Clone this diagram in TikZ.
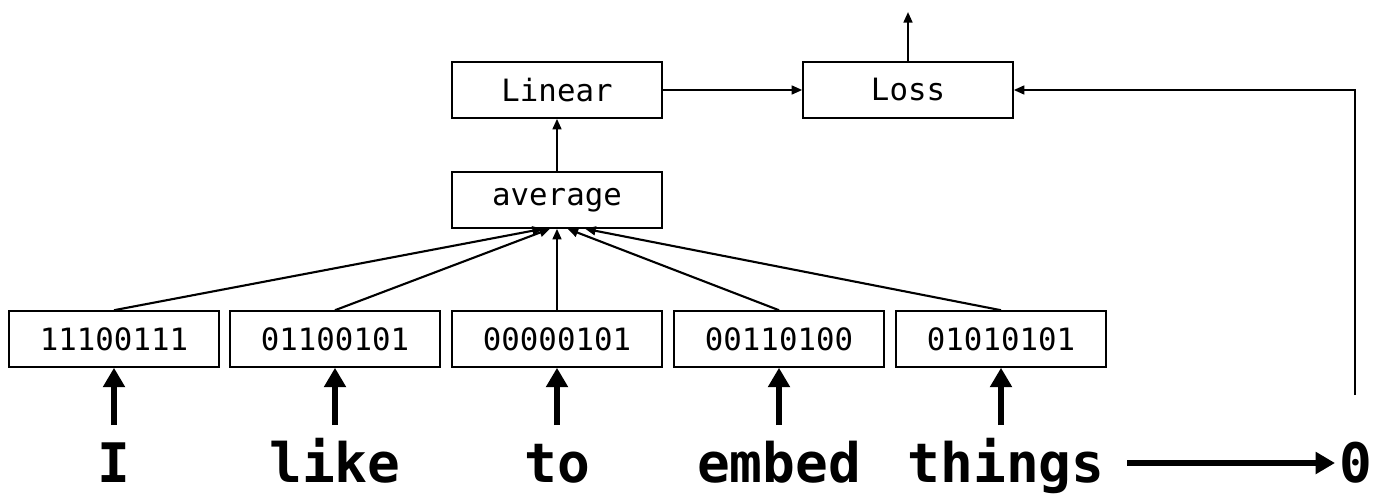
\documentclass[tikz,border=0pt]{standalone}
\usepackage{fontspec}
\setmonofont{DejaVu Sans Mono}
\usetikzlibrary{arrows.meta,positioning}
\tikzset{
  box/.style={draw, line width=0.9pt, minimum width=4.2cm, minimum height=1.12cm,
    inner sep=0pt, font=\ttfamily\fontsize{17.5}{20}\selectfont},
  word/.style={anchor=base, inner sep=0pt, text depth=0pt,
    font=\ttfamily\bfseries\fontsize{31}{34}\selectfont},
  thin/.style={line width=1.2pt, -{Triangle[length=6pt,width=5pt]}},
  thick/.style={line width=3.4pt, -{Triangle[length=11pt,width=12pt]}},
}
\begin{document}
\begin{tikzpicture}[x=0.02cm, y=-0.02cm]
\useasboundingbox (0,0) rectangle (1381,493);

% layers above the embeddings
\node[box] (linear) at (557,90) {Linear};
\node[box] (loss) at (908,90) {Loss};
\node[box] (avg) at (557,200) {average};

% one embedding per word
\node[box] (e1) at (114,339) {11100111};
\node[box] (e2) at (335,339) {01100101};
\node[box] (e3) at (557,339) {00000101};
\node[box] (e4) at (779,339) {00110100};
\node[box] (e5) at (1001,339) {01010101};

% input words and target
\node[word] (w1) at (114,482) {I};
\node[word] (w2) at (335,482) {like};
\node[word] (w3) at (557,482) {to};
\node[word] (w4) at (779,482) {embed};
\node[word] (w5) at (1006,482) {things};
\node[word] (zero) at (1356,482) {0};

\coordinate (out) at (908,12);
\coordinate (zerotop) at (1355,395);
\coordinate (corner) at (1355,90);
\coordinate (tstart) at (1127,463);
\coordinate (tend) at (1335,463);

% word -> embedding
\foreach \i in {1,...,5}
  \draw[thick] (e\i.south |- 0,425) -- (e\i.south);
\draw[thick] (tstart) -- (tend);

% embeddings -> average
\draw[thin] (e1.north) -- ([xshift=-8]avg.south);
\draw[thin] (e2.north) -- ([xshift=-4]avg.south);
\draw[thin] (e3.north) -- (avg.south);
\draw[thin] (e4.north) -- ([xshift=6]avg.south);
\draw[thin] (e5.north) -- ([xshift=16]avg.south);

% upper part
\draw[thin] (avg) -- (linear);
\draw[thin] (linear) -- (loss);
\draw[thin] (loss) -- (out);
\draw[thin] (zerotop) -- (corner) -- (loss);
\end{tikzpicture}
\end{document}
